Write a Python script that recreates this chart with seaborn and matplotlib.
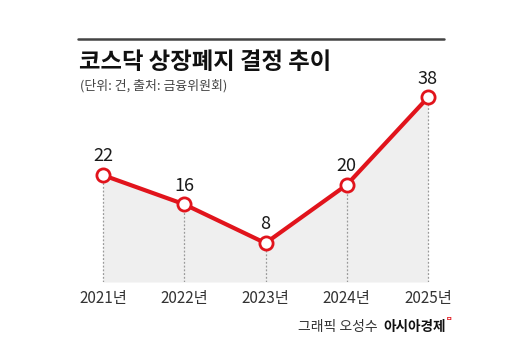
import matplotlib
matplotlib.use("Agg")
import matplotlib.pyplot as plt
import seaborn as sns
import pandas as pd

years = [2021, 2022, 2023, 2024, 2025]
year_labels = ["2021년", "2022년", "2023년", "2024년", "2025년"]
counts = [22, 16, 8, 20, 38]

title = "코스닥 상장폐지 결정 추이"
subtitle = "(단위: 건, 출처: 금융위원회)"
credit = "그래픽 오성수"
brand = "아시아경제"

sns.set_style("white")
plt.rcParams['font.family'] = ['Noto Sans CJK KR', 'DejaVu Sans']

W, H = 530, 355
fig = plt.figure(figsize=(W / 100, H / 100), dpi=100)

# axes in pixel coords
ax_l, ax_r, ax_top, ax_bot = 78, 453, 70, 282
ax = fig.add_axes([ax_l / W, (H - ax_bot) / H, (ax_r - ax_l) / W, (ax_bot - ax_top) / H])

df = pd.DataFrame({"x": list(range(len(years))), "count": counts})
step = (428 - 103) / 4
ax.set_xlim(-(103 - ax_l) / step, 4 + (ax_r - 428) / step)
ppu = (243 - 175) / 14
ax.set_ylim(0, (ax_bot - ax_top) / ppu)

red = "#e1141c"
ax.fill_between(df["x"], 0, df["count"], color="#efefef", lw=0, zorder=1)
for xi, v in zip(df["x"], df["count"]):
    ax.plot([xi, xi], [0, v], color="#9a9a9a", lw=0.9, ls=(0, (1.5, 1.5)), zorder=2)
sns.lineplot(data=df, x="x", y="count", ax=ax, color=red, lw=3.0, zorder=3,
             marker="o", markersize=9.5, markerfacecolor="white",
             markeredgecolor=red, markeredgewidth=2.0)
for xi, v in zip(df["x"], df["count"]):
    ax.annotate(str(v), (xi, v), xytext=(0, 7), textcoords="offset points",
                ha="center", va="bottom", fontsize=13, color="#1a1a1a")

ax.set_xticks(df["x"])
ax.set_xticklabels(year_labels, fontsize=11, color="#333333")
ax.tick_params(axis="x", length=0, pad=6)
ax.set_yticks([])
ax.set_xlabel("")
ax.set_ylabel("")
for s in ax.spines.values():
    s.set_visible(False)
ax.patch.set_alpha(0)

# top rule
fig.add_artist(plt.Line2D([78 / W, 444 / W], [1 - 38.5 / H, 1 - 38.5 / H],
                          color="#444444", lw=1.8))
fig.text(79 / W, 1 - 62 / H, title, fontsize=16.8, fontweight="bold",
         color="#111111", ha="left", va="center")
fig.text(80 / W, 1 - 86 / H, subtitle, fontsize=9.3, color="#444444",
         ha="left", va="center")

fig.text(378 / W, 1 - 327 / H, credit, fontsize=10, color="#333333",
         ha="right", va="center")
fig.text(383 / W, 1 - 327 / H, brand, fontsize=9.8, fontweight="bold",
         color="#111111", ha="left", va="center")
fig.text(446 / W, 1 - 319 / H, "ㅁ", fontsize=5, color=red, fontweight="bold",
         ha="left", va="center")

fig.savefig("out.png", dpi=100)
